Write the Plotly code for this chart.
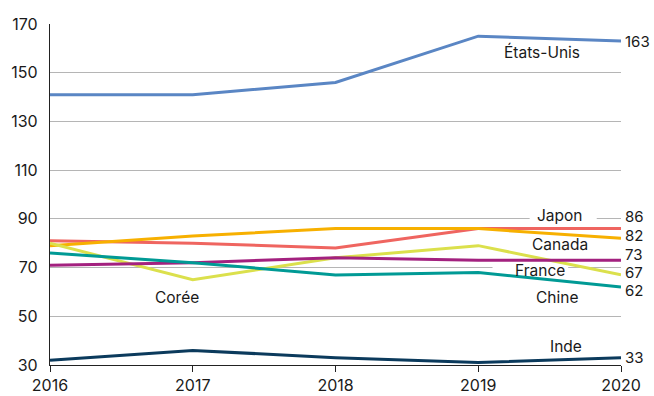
import plotly.graph_objects as go

years = [2016, 2017, 2018, 2019, 2020]

etats_unis = [141, 141, 146, 165, 163]
japon = [81, 80, 78, 86, 86]
canada = [79, 83, 86, 86, 82]
coree = [80, 65, 74, 79, 67]
france = [71, 72, 74, 73, 73]
chine = [76, 72, 67, 68, 62]
inde = [32, 36, 33, 31, 33]

y_ticks = [30, 50, 70, 90, 110, 130, 150, 170]

series = [
    ("États-Unis", etats_unis, "#5a86c4"),
    ("Japon", japon, "#ef6560"),
    ("Canada", canada, "#f7b000"),
    ("Corée", coree, "#dbe04c"),
    ("France", france, "#a3217f"),
    ("Chine", chine, "#009a95"),
    ("Inde", inde, "#0b3a5c"),
]

FONT = "Inter"
TEXT = "#1a1a1a"

fig = go.Figure()
for name, vals, color in series:
    fig.add_trace(go.Scatter(
        x=years, y=vals, mode="lines", name=name,
        line=dict(color=color, width=3), showlegend=False,
        hoverinfo="skip",
    ))

# series name labels placed next to their lines
name_labels = [
    ("États-Unis", 2019.45, 158.5),
    ("Japon", 2019.57, 91.2),
    ("Canada", 2019.57, 79.3),
    ("France", 2019.43, 68.6),
    ("Chine", 2019.55, 57.9),
    ("Corée", 2016.89, 57.9),
    ("Inde", 2019.615, 37.8),
]
for text, x, y in name_labels:
    fig.add_annotation(
        x=x, y=y, text=text, showarrow=False,
        font=dict(family=FONT, size=15.5, color=TEXT),
        xanchor="center", yanchor="middle",
    )

# white gaps in the gridlines behind the Japon and France labels
for x0, x1, yc in [(2019.36, 2019.83, 90), (2019.10, 2019.63, 70)]:
    fig.add_shape(
        type="rect", xref="x", yref="y", x0=x0, x1=x1, y0=yc - 0.8, y1=yc + 0.8,
        fillcolor="white", line=dict(width=0), layer="between",
    )

# end-of-line values, nudged apart where lines converge
end_shift = {"Japon": 12, "Canada": 3, "France": 6, "Corée": 2, "Chine": -3}
for name, vals, color in series:
    fig.add_annotation(
        x=years[-1], y=vals[-1], text=str(vals[-1]), showarrow=False,
        xanchor="left", yanchor="middle", xshift=2,
        yshift=end_shift.get(name, 0),
        font=dict(family=FONT, size=15, color=TEXT),
    )

fig.update_layout(
    width=654, height=396,
    margin=dict(l=50, r=33, t=24, b=31),
    paper_bgcolor="white", plot_bgcolor="white",
    font=dict(family=FONT, size=15, color=TEXT),
    xaxis=dict(
        range=[2016, 2020], tickvals=years, ticktext=[str(y) for y in years],
        showgrid=False, zeroline=False, automargin=False,
        showline=True, linecolor="#222", linewidth=1.2,
        ticks="outside", ticklen=6, tickcolor="#222",
        tickfont=dict(family=FONT, size=16),
    ),
    yaxis=dict(
        range=[30, 170], tickvals=y_ticks, automargin=False,
        showgrid=True, gridcolor="#b5b5b5", gridwidth=1.2,
        zeroline=False, showline=True, linecolor="#222", linewidth=1.2,
        ticks="", ticklabelstandoff=8,
        tickfont=dict(family=FONT, size=16),
    ),
)

fig.write_html("out.html")
